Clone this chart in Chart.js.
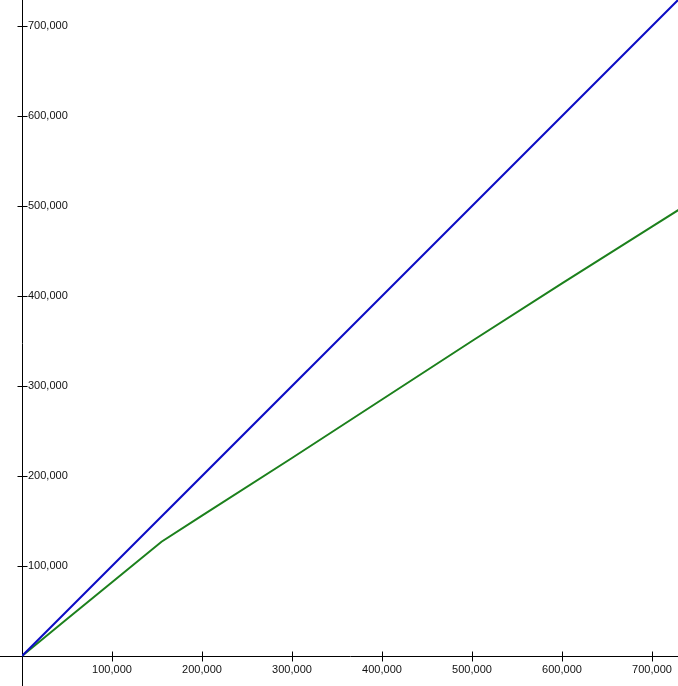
<!DOCTYPE html>
<html>
<head>
<meta charset="utf-8">
<script src="https://cdn.jsdelivr.net/npm/chart.js@4/dist/chart.umd.min.js"></script>
<style>
  html, body { margin: 0; padding: 0; background: #fff; }
  #wrap { width: 678px; height: 686px; }
</style>
</head>
<body>
<div id="wrap"><canvas id="chart"></canvas></div>
<script>
// gross vs net
const grossX = [0, 50000, 100000, 155000, 200000, 300000, 400000, 500000, 600000, 700000, 730000];
const netY = [0, 41000, 82000, 127000, 156000, 220000, 285000, 350000, 414000, 477000, 496000];
const diagX = [0, 730000];
const diagY = [0, 730000];
const tickValues = [100000, 200000, 300000, 400000, 500000, 600000, 700000];

const toPoints = (xs, ys) => xs.map((x, i) => ({ x: x, y: ys[i] }));

// tick marks that cross the axis line, plus the bit of x axis left of the y axis
const crossTicks = {
  id: 'crossTicks',
  afterDraw(chart) {
    const ctx = chart.ctx;
    const xs = chart.scales.x, ys = chart.scales.y;
    const x0 = Math.round(xs.getPixelForValue(0)) + 0.5;
    const y0 = Math.round(ys.getPixelForValue(0)) + 0.5;
    ctx.save();
    ctx.strokeStyle = '#000';
    ctx.lineWidth = 1;
    ctx.beginPath();
    ctx.moveTo(0, y0);
    ctx.lineTo(x0, y0);
    tickValues.forEach(v => {
      const px = Math.round(xs.getPixelForValue(v)) + 0.5;
      ctx.moveTo(px, y0 - 5);
      ctx.lineTo(px, y0 + 5);
      const py = Math.round(ys.getPixelForValue(v)) + 0.5;
      ctx.moveTo(x0 - 5, py);
      ctx.lineTo(x0 + 5, py);
    });
    ctx.stroke();
    ctx.restore();
  }
};

const keepTicks = scale => {
  scale.ticks = tickValues.map(v => ({ value: v }));
};

// no room reserved for the axes, they sit inside the plot
const noRoom = s => {
  if (s.isHorizontal()) s.height = 0; else s.width = 0;
  s.paddingTop = 0;
  s.paddingBottom = 0;
  s.paddingLeft = 0;
  s.paddingRight = 0;
};

const labelFont = { family: 'Liberation Sans', size: 11 };

new Chart(document.getElementById('chart'), {
  type: 'scatter',
  data: {
    datasets: [
      {
        data: toPoints(diagX, diagY),
        showLine: true,
        borderColor: '#0c0cc4',
        borderWidth: 2,
        pointRadius: 0
      },
      {
        data: toPoints(grossX, netY),
        showLine: true,
        borderColor: '#1c801c',
        borderWidth: 2,
        pointRadius: 0
      }
    ]
  },
  options: {
    responsive: true,
    maintainAspectRatio: false,
    animation: false,
    locale: 'en-US',
    layout: { autoPadding: false, padding: { left: 22, top: 0, right: 0, bottom: 0 } },
    plugins: {
      legend: { display: false },
      tooltip: { enabled: false }
    },
    scales: {
      x: {
        type: 'linear',
        min: 0,
        max: 728889,
        position: { y: 0 },
        afterBuildTicks: keepTicks,
        afterFit: noRoom,
        grid: { display: false, drawTicks: false },
        border: { display: true, color: '#000', width: 1 },
        ticks: {
          color: '#111',
          padding: 7,
          maxRotation: 0,
          autoSkip: false,
          font: labelFont
        }
      },
      y: {
        type: 'linear',
        min: -33333,
        max: 728889,
        position: 'left',
        afterBuildTicks: keepTicks,
        afterFit: noRoom,
        grid: { display: false, drawTicks: false },
        border: { display: true, color: '#000', width: 1 },
        ticks: {
          color: '#111',
          mirror: true,
          padding: 6,
          autoSkip: false,
          font: labelFont
        }
      }
    }
  },
  plugins: [crossTicks]
});
</script>
</body>
</html>
